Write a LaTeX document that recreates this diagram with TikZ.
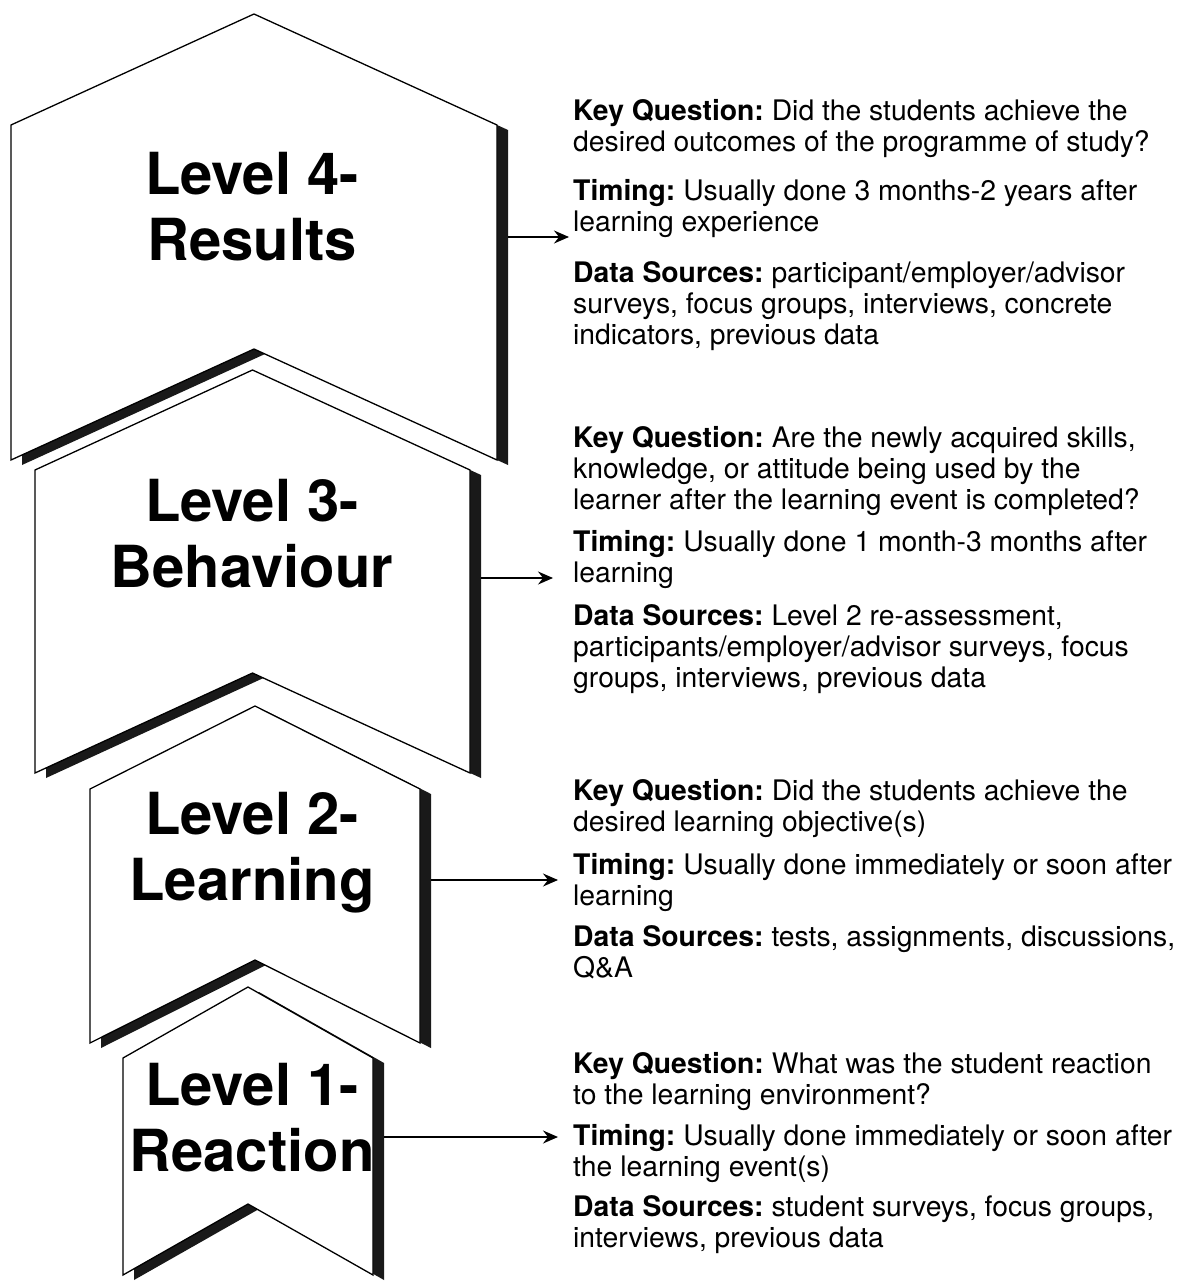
\documentclass[tikz,border=0pt]{standalone}
\usepackage{fontspec}
\setmainfont{TeX Gyre Heros}
\frenchspacing
\usetikzlibrary{arrows.meta}
\tikzstyle{banner}=[fill=white,draw=black,line width=1.3pt,line join=miter]
\tikzstyle{shade}=[fill=black!90]
\tikzstyle{link}=[-{Stealth[length=15pt,width=13pt,inset=5pt]},line width=1.3pt]
\tikzstyle{title}=[font=\fontsize{58}{66}\selectfont\bfseries,align=center,anchor=north,inner sep=0]
\tikzstyle{notes}=[font=\fontsize{28.3}{31}\selectfont,align=left,anchor=north west,inner sep=0]
% chevron banner with its drop shadow: left x, right x, apex y, corner y, bottom y
\def\banner#1#2#3#4#5{
    \fill[shade,shift={(11,5)}] (#1,#4) -- ({(#1+#2)/2},#3) -- (#2,#4) -- (#2,#5)
        -- ({(#1+#2)/2},{#5-#4+#3}) -- (#1,#5) -- cycle;
    \draw[banner] (#1,#4) -- ({(#1+#2)/2},#3) -- (#2,#4) -- (#2,#5)
        -- ({(#1+#2)/2},{#5-#4+#3}) -- (#1,#5) -- cycle;
}

\begin{document}
\begin{tikzpicture}[x=1pt,y=-1pt]
    \useasboundingbox (0,0) rectangle (1179,1281);

    % the four levels, top to bottom
    \banner{11}{497}{14}{125}{460}
    \banner{35}{470}{370}{470}{773}
    \banner{90}{420}{706}{789}{1043}
    \banner{123}{373}{987}{1058}{1275}

    \node[title] (lev4) at (252,152) {Level 4-\\Results};
    \node[title] (lev3) at (252,479) {Level 3-\\Behaviour};
    \node[title] (lev2) at (252,792) {Level 2-\\Learning};
    \node[title] (lev1) at (252,1063) {Level 1-\\Reaction};

    \node[notes] (info4) at (573,99) {%
        \textbf{Key Question:} Did the students achieve the\\
        desired outcomes of the programme of study?\\[18pt]
        \textbf{Timing:} Usually done 3 months-2 years after\\
        learning experience\\[20pt]
        \textbf{Data Sources:} participant/employer/advisor\\
        surveys, focus groups, interviews, concrete\\
        indicators, previous data};
    \node[notes] (info3) at (573,426) {%
        \textbf{Key Question:} Are the newly acquired skills,\\
        knowledge, or attitude being used by the\\
        learner after the learning event is completed?\\[11pt]
        \textbf{Timing:} Usually done 1 month-3 months after\\
        learning\\[12pt]
        \textbf{Data Sources:} Level 2 re-assessment,\\
        participants/employer/advisor surveys, focus\\
        groups, interviews, previous data};
    \node[notes] (info2) at (573,779) {%
        \textbf{Key Question:} Did the students achieve the\\
        desired learning objective(s)\\[12pt]
        \textbf{Timing:} Usually done immediately or soon after\\
        learning\\[10pt]
        \textbf{Data Sources:} tests, assignments, discussions,\\
        Q\&A};
    \node[notes] (info1) at (573,1052) {%
        \textbf{Key Question:} What was the student reaction\\
        to the learning environment?\\[10pt]
        \textbf{Timing:} Usually done immediately or soon after\\
        the learning event(s)\\[9pt]
        \textbf{Data Sources:} student surveys, focus groups,\\
        interviews, previous data};

    % arrows from each banner to its notes
    \coordinate (out4) at (508,237);  \coordinate (in4) at (569,237);
    \coordinate (out3) at (481,578);  \coordinate (in3) at (553,578);
    \coordinate (out2) at (431,880);  \coordinate (in2) at (558,880);
    \coordinate (out1) at (384,1137); \coordinate (in1) at (558,1137);
    \draw[link] (out4) -- (in4);
    \draw[link] (out3) -- (in3);
    \draw[link] (out2) -- (in2);
    \draw[link] (out1) -- (in1);
\end{tikzpicture}
\end{document}
